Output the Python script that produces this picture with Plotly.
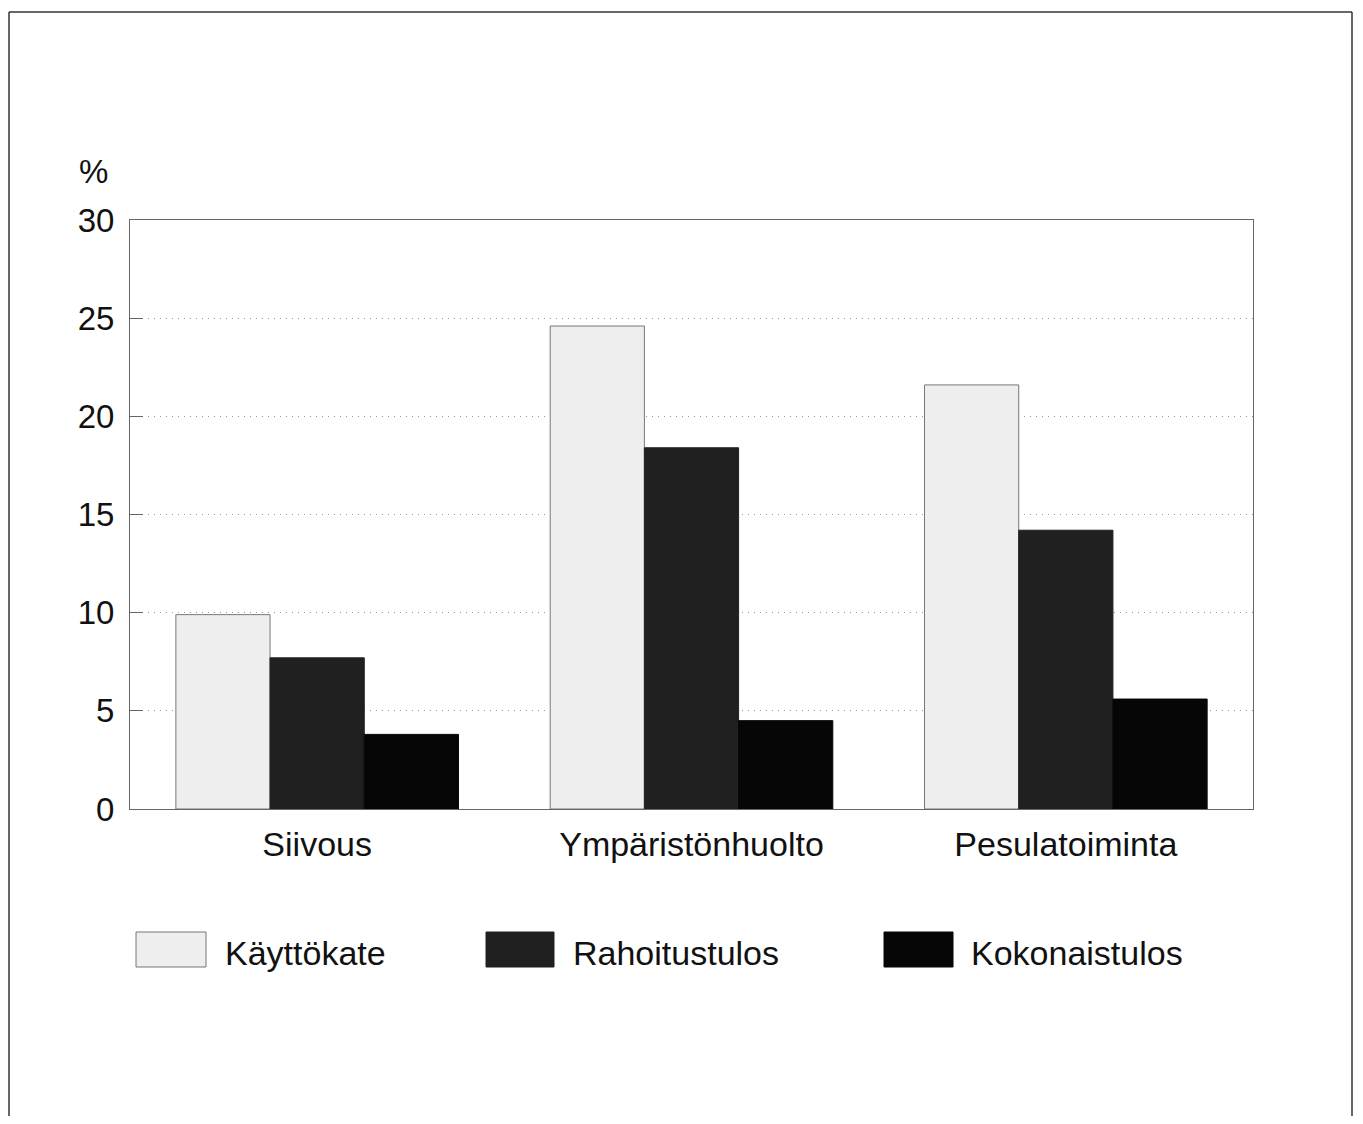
import plotly.graph_objects as go

categories = ["Siivous", "Ympäristönhuolto", "Pesulatoiminta"]
series_names = ["Käyttökate", "Rahoitustulos", "Kokonaistulos"]
kayttokate = [9.9, 24.6, 21.6]
rahoitustulos = [7.7, 18.4, 14.2]
kokonaistulos = [3.8, 4.5, 5.6]
y_ticks = [0, 5, 10, 15, 20, 25, 30]

values = [kayttokate, rahoitustulos, kokonaistulos]
fills = ["#eeeeee", "#202020", "#060606"]
lines = ["#777777", "#202020", "#060606"]

OFF = 8  # page body margin
W, H = 1347, 1108
L, R, T, B = 130 - OFF, 1253 - OFF, 220 - OFF, 809 - OFF
FONT = "Liberation Sans, Arial, Helvetica, sans-serif"


def px(x):
    return (x - OFF - L) / (R - L)


def py(y):
    return (B - (y - OFF)) / (B - T)


fig = go.Figure()
for name, vals, fc, lc in zip(series_names, values, fills, lines):
    fig.add_trace(go.Bar(
        x=categories, y=vals, name=name,
        marker=dict(color=fc, line=dict(color=lc, width=1)),
        showlegend=False,
    ))

shapes = []
annotations = []
# outer frame (left, top, right edges)
frame = dict(color="#333333", width=1.5)
shapes.append(dict(type="line", xref="paper", yref="paper",
                   x0=px(9), x1=px(9), y0=py(1124), y1=py(12), line=frame))
shapes.append(dict(type="line", xref="paper", yref="paper",
                   x0=px(9), x1=px(1352), y0=py(12), y1=py(12), line=frame))
shapes.append(dict(type="line", xref="paper", yref="paper",
                   x0=px(1352), x1=px(1352), y0=py(1124), y1=py(12), line=frame))

# custom legend
legend_items = [(136, 206, 225), (486, 554, 573), (884, 953, 971)]
for (sx0, sx1, tx), name, fc, lc in zip(legend_items, series_names, fills, lines):
    shapes.append(dict(type="rect", xref="paper", yref="paper",
                       x0=px(sx0), x1=px(sx1), y0=py(967), y1=py(932),
                       line=dict(color=lc, width=1), fillcolor=fc))
    annotations.append(dict(xref="paper", yref="paper", x=px(tx - 2), y=py(953),
                            text=name, showarrow=False, xanchor="left", yanchor="middle",
                            font=dict(family=FONT, size=34, color="#111111")))

annotations.append(dict(xref="paper", yref="paper", x=px(93), y=py(172),
                        text="%", showarrow=False, xanchor="center", yanchor="middle",
                        font=dict(family=FONT, size=33, color="#111111")))

fig.update_layout(
    width=W, height=H,
    margin=dict(l=L, r=W - R, t=T, b=H - B, pad=0),
    paper_bgcolor="white", plot_bgcolor="white",
    barmode="group", bargap=0.245, bargroupgap=0,
    shapes=shapes, annotations=annotations,
    font=dict(family=FONT, color="#111111"),
)
fig.update_yaxes(
    range=[0, 30], tickvals=y_ticks, ticktext=[str(v) for v in y_ticks],
    showgrid=True, gridcolor="#9a9a9a", griddash="1px,5px", gridwidth=1.2,
    ticks="inside", ticklen=13, tickcolor="#666666", tickwidth=1,
    showline=True, linecolor="#666666", linewidth=1, mirror=True,
    zeroline=False, tickfont=dict(family=FONT, size=33, color="#111111"),
    ticklabelstandoff=8,
)
fig.update_xaxes(
    showline=True, linecolor="#666666", linewidth=1, mirror=True,
    ticks="", showgrid=False,
    tickfont=dict(family=FONT, size=34, color="#111111"),
    ticklabelstandoff=5,
)

fig.write_html("out.html")
